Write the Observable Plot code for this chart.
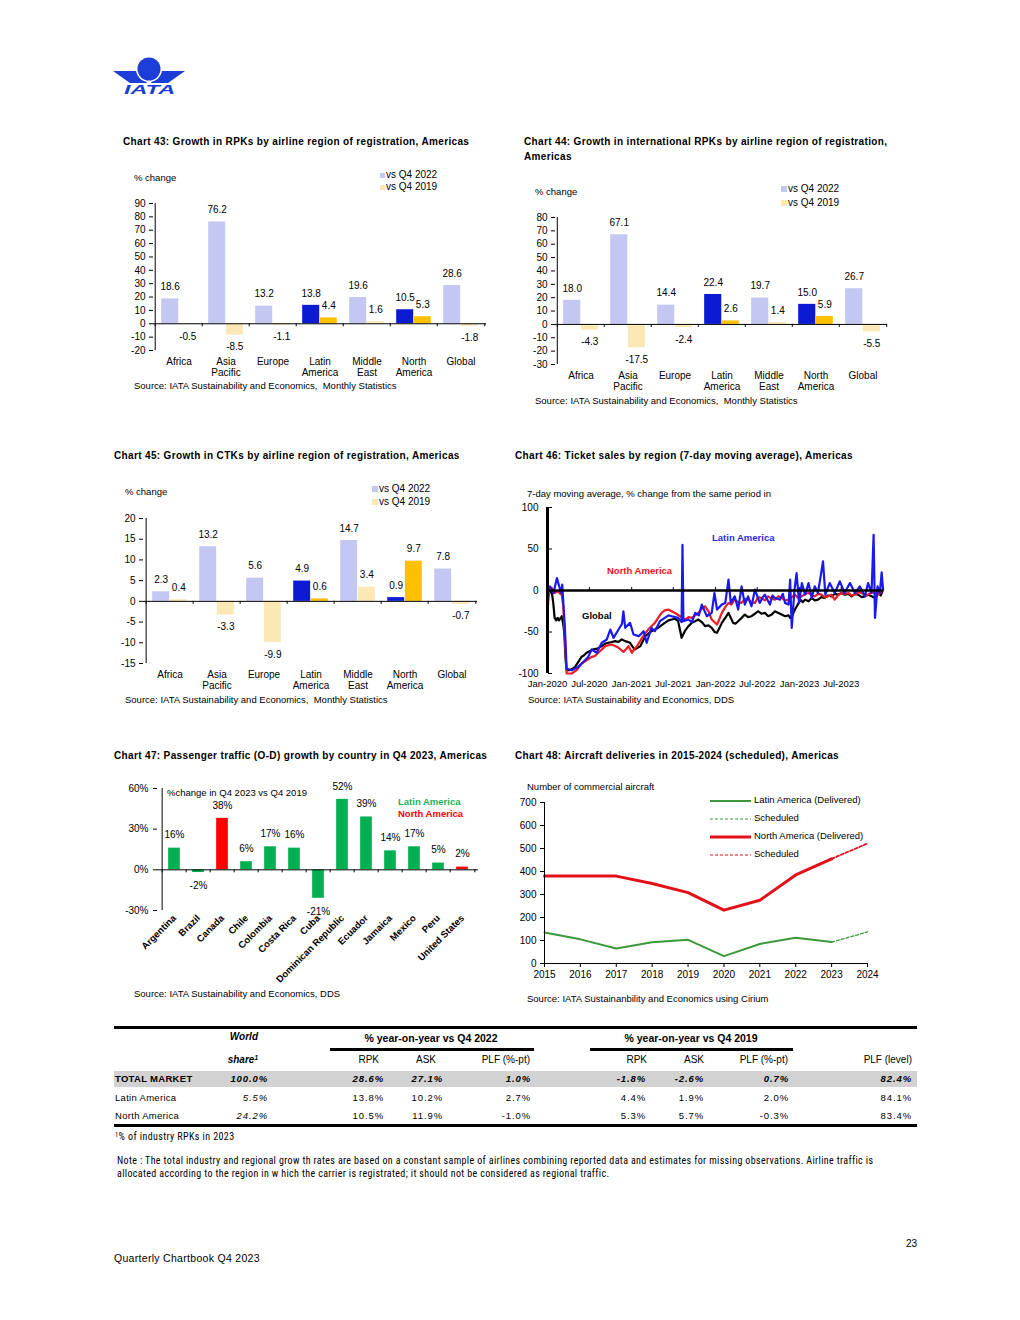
<!DOCTYPE html>
<html><head><meta charset="utf-8">
<script src="https://cdn.jsdelivr.net/npm/d3@7"></script>
<script src="https://cdn.jsdelivr.net/npm/@observablehq/plot@0.6"></script>
<style>
html,body{margin:0;padding:0;background:#fff;}
#page{position:relative;width:1020px;height:1320px;overflow:hidden;font-family:"Liberation Sans",Arial,sans-serif;color:#000;}
.a{position:absolute;white-space:pre;line-height:1;}
.p{position:absolute;}
.p svg{display:block;overflow:visible;}
.r{position:absolute;background:#000;}
sup{font-size:65%;vertical-align:0;position:relative;top:-0.5em;}
</style></head>
<body><div id="page"></div>
<script>
// ---------------- DATA ----------------
const regions = ["Africa", "Asia Pacific", "Europe", "Latin America", "Middle East", "North America", "Global"];
const regionLabels = ["Africa", "Asia\nPacific", "Europe", "Latin\nAmerica", "Middle\nEast", "North\nAmerica", "Global"];
const highlightRegions = ["Latin America", "North America"];

// Chart 43: RPK growth
const rpkVsQ42022 = [18.6, 76.2, 13.2, 13.8, 19.6, 10.5, 28.6];
const rpkVsQ42019 = [-0.5, -8.5, -1.1, 4.4, 1.6, 5.3, -1.8];
// Chart 44: international RPK growth
const intlRpkVsQ42022 = [18.0, 67.1, 14.4, 22.4, 19.7, 15.0, 26.7];
const intlRpkVsQ42019 = [-4.3, -17.5, -2.4, 2.6, 1.4, 5.9, -5.5];
// Chart 45: CTK growth
const ctkVsQ42022 = [2.3, 13.2, 5.6, 4.9, 14.7, 0.9, 7.8];
const ctkVsQ42019 = [0.4, -3.3, -9.9, 0.6, 3.4, 9.7, -0.7];

const ticks43 = [-20, -10, 0, 10, 20, 30, 40, 50, 60, 70, 80, 90];
const ticks44 = [-30, -20, -10, 0, 10, 20, 30, 40, 50, 60, 70, 80];
const ticks45 = [-15, -10, -5, 0, 5, 10, 15, 20];

// Chart 46: ticket sales 7-day moving average (% change)
const chart46TickDates = ["2020-01-01", "2020-07-01", "2021-01-01", "2021-07-01", "2022-01-01", "2022-07-01", "2023-01-01", "2023-07-01"];
const chart46YTicks = [-100, -50, 0, 50, 100];
const globalSales = [
["2020-01-01",-10],["2020-01-08",-4],["2020-01-14",-1],["2020-01-20",-3],["2020-01-26",-15],["2020-02-01",-33],["2020-02-08",-36],["2020-02-14",-33],["2020-02-20",-36],["2020-02-25",-34],["2020-03-03",-31],["2020-03-09",-40],["2020-03-14",-51],["2020-03-19",-80],["2020-03-24",-96],["2020-04-08",-96],["2020-04-20",-94],["2020-04-30",-92],["2020-05-14",-86],["2020-05-28",-80],["2020-06-08",-78],["2020-06-19",-75],["2020-07-04",-73],["2020-07-18",-71],["2020-08-05",-70],["2020-08-24",-67],["2020-09-08",-64],["2020-09-22",-63],["2020-10-07",-62],["2020-10-21",-61],["2020-11-05",-62],["2020-11-19",-59],["2020-12-04",-61],["2020-12-25",-63],["2021-01-08",-69],["2021-01-16",-71],["2021-02-08",-67],["2021-02-20",-60],["2021-03-01",-55],["2021-03-15",-52],["2021-03-28",-49],["2021-04-12",-47],["2021-04-26",-45],["2021-05-10",-42],["2021-05-25",-39],["2021-06-10",-36],["2021-06-24",-35],["2021-07-08",-34],["2021-07-22",-37],["2021-08-01",-50],["2021-08-06",-57],["2021-08-20",-49],["2021-09-05",-43],["2021-09-19",-39],["2021-10-04",-37],["2021-10-18",-35],["2021-11-02",-38],["2021-11-16",-43],["2021-12-01",-42],["2021-12-15",-45],["2021-12-28",-50],["2022-01-07",-51],["2022-01-18",-45],["2022-01-28",-39],["2022-02-12",-33],["2022-02-26",-27],["2022-03-08",-33],["2022-03-18",-39],["2022-03-28",-40],["2022-04-09",-37],["2022-04-24",-33],["2022-05-08",-29],["2022-05-22",-32],["2022-06-06",-31],["2022-06-21",-28],["2022-07-05",-25],["2022-07-19",-28],["2022-08-03",-27],["2022-08-18",-31],["2022-09-02",-29],["2022-09-16",-25],["2022-10-01",-27],["2022-10-15",-29],["2022-10-30",-31],["2022-11-14",-30],["2022-11-21",-33],["2022-12-01",-30],["2022-12-12",-23],["2022-12-22",-18],["2023-01-04",-11],["2023-01-15",-14],["2023-01-25",-11],["2023-02-09",-13],["2023-02-23",-9],["2023-03-08",-12],["2023-03-22",-11],["2023-04-06",-8],["2023-04-20",-9],["2023-05-05",-6],["2023-05-19",-7],["2023-06-03",-4],["2023-06-17",-5],["2023-07-02",-3],["2023-07-16",-5],["2023-08-01",-4],["2023-08-15",-7],["2023-08-30",-4],["2023-09-13",-5],["2023-09-28",-8],["2023-10-12",-7],["2023-10-26",-5],["2023-11-10",-7],["2023-11-25",-9],["2023-12-09",-3],["2023-12-20",-6],["2023-12-30",1]
];
const northAmericaSales = [
["2020-01-01",-23],["2020-01-08",-2],["2020-01-14",2],["2020-01-20",3],["2020-02-01",-3],["2020-02-15",-1],["2020-02-25",-4],["2020-03-03",-5],["2020-03-10",-20],["2020-03-17",-60],["2020-03-24",-100],["2020-04-15",-100],["2020-05-07",-96],["2020-05-28",-88],["2020-06-19",-84],["2020-07-11",-80],["2020-07-25",-79],["2020-08-09",-75],["2020-08-25",-71],["2020-09-08",-67],["2020-09-22",-66],["2020-10-07",-65],["2020-10-21",-67],["2020-11-05",-69],["2020-11-26",-74],["2020-12-10",-70],["2020-12-18",-67],["2021-01-02",-75],["2021-01-12",-71],["2021-01-24",-67],["2021-02-05",-62],["2021-02-15",-57],["2021-02-28",-52],["2021-03-14",-47],["2021-03-28",-43],["2021-04-12",-39],["2021-04-26",-33],["2021-05-11",-27],["2021-05-25",-24],["2021-06-09",-23],["2021-06-24",-25],["2021-07-08",-27],["2021-07-30",-31],["2021-08-10",-33],["2021-08-20",-35],["2021-09-05",-32],["2021-09-19",-33],["2021-10-04",-30],["2021-10-18",-27],["2021-11-02",-22],["2021-11-16",-19],["2021-12-01",-25],["2021-12-15",-35],["2022-01-07",-41],["2022-01-18",-34],["2022-01-28",-27],["2022-02-12",-20],["2022-02-26",-15],["2022-03-10",-17],["2022-03-25",-11],["2022-04-09",-14],["2022-04-24",-15],["2022-05-08",-10],["2022-05-22",-11],["2022-06-06",-14],["2022-06-21",-15],["2022-07-05",-8],["2022-07-19",-9],["2022-08-03",-12],["2022-08-18",-7],["2022-09-02",-10],["2022-09-16",-11],["2022-10-01",-7],["2022-10-15",-9],["2022-10-30",-12],["2022-11-14",-11],["2022-11-28",-8],["2022-12-12",-5],["2022-12-26",-9],["2023-01-11",-7],["2023-01-25",-4],["2023-02-09",-3],["2023-02-23",-6],["2023-03-08",-7],["2023-03-22",-4],["2023-04-06",-5],["2023-04-20",-8],["2023-05-05",-7],["2023-05-19",-5],["2023-06-03",-11],["2023-06-17",-6],["2023-07-02",-3],["2023-07-16",-4],["2023-08-01",-3],["2023-08-15",-6],["2023-08-30",-5],["2023-09-13",-2],["2023-09-28",-3],["2023-10-12",-6],["2023-10-26",-5],["2023-11-10",-2],["2023-11-25",-3],["2023-12-09",-5],["2023-12-24",-1],["2023-12-30",1]
];
const latinAmericaSales = [
["2020-01-01",0],["2020-01-12",5],["2020-01-27",-3],["2020-02-11",15],["2020-02-21",5],["2020-03-01",-3],["2020-03-05",7],["2020-03-17",-47],["2020-03-24",-94],["2020-04-15",-96],["2020-05-14",-92],["2020-06-12",-84],["2020-06-26",-80],["2020-07-11",-71],["2020-08-02",-75],["2020-08-24",-63],["2020-09-15",-59],["2020-09-30",-47],["2020-10-14",-57],["2020-11-05",-47],["2020-11-20",-40],["2020-11-26",-25],["2020-12-04",-45],["2020-12-25",-39],["2021-01-09",-53],["2021-02-01",-55],["2021-02-22",-49],["2021-03-07",-63],["2021-03-28",-45],["2021-04-12",-49],["2021-05-04",-37],["2021-05-25",-33],["2021-06-10",-30],["2021-06-24",-31],["2021-07-22",-33],["2021-08-06",-38],["2021-08-10",55],["2021-08-14",-37],["2021-09-05",-35],["2021-09-20",-38],["2021-10-04",-27],["2021-10-20",-30],["2021-11-02",-17],["2021-11-24",-31],["2021-12-15",-27],["2021-12-27",-3],["2022-01-07",-23],["2022-01-28",-17],["2022-02-12",-15],["2022-02-26",13],["2022-03-08",-15],["2022-03-25",-7],["2022-04-09",-23],["2022-04-24",5],["2022-05-08",-17],["2022-05-22",-7],["2022-06-06",-19],["2022-06-21",1],["2022-07-12",-15],["2022-07-25",-8],["2022-08-03",-5],["2022-08-25",-17],["2022-09-05",-6],["2022-09-16",-9],["2022-10-08",-11],["2022-10-20",-4],["2022-10-30",-15],["2022-11-14",-17],["2022-11-21",13],["2022-11-28",-45],["2022-12-10",1],["2022-12-19",21],["2022-12-30",-15],["2023-01-11",9],["2023-01-25",-5],["2023-02-09",9],["2023-02-23",-9],["2023-03-08",5],["2023-03-22",-3],["2023-04-13",35],["2023-04-23",-5],["2023-05-12",9],["2023-06-03",-3],["2023-06-25",11],["2023-07-16",-3],["2023-08-08",9],["2023-08-30",-3],["2023-09-20",5],["2023-10-12",-7],["2023-10-26",9],["2023-11-10",-3],["2023-11-19",67],["2023-11-25",-33],["2023-12-06",5],["2023-12-16",-3],["2023-12-24",22],["2023-12-30",1]
];

// Chart 47: O-D passenger growth Q4 2023 vs Q4 2019
const countries = ["Argentina", "Brazil", "Canada", "Chile", "Colombia", "Costa Rica", "Cuba", "Dominican Republic", "Ecuador", "Jamaica", "Mexico", "Peru", "United States"];
const countryGrowth = [16, -2, 38, 6, 17, 16, -21, 52, 39, 14, 17, 5, 2];
const countryRegion = ["Latin America", "Latin America", "North America", "Latin America", "Latin America", "Latin America", "Latin America", "Latin America", "Latin America", "Latin America", "Latin America", "Latin America", "North America"];
const ticks47 = [-30, 0, 30, 60];

// Chart 48: aircraft deliveries
const deliveryYears = [2015, 2016, 2017, 2018, 2019, 2020, 2021, 2022, 2023];
const latamDelivered = [135, 105, 65, 92, 103, 32, 85, 112, 93];
const noramDelivered = [380, 380, 380, 348, 308, 232, 275, 385, 455];
const scheduledYears = [2023, 2024];
const latamScheduled = [93, 137];
const noramScheduled = [455, 522];
const axisYears48 = [2015, 2016, 2017, 2018, 2019, 2020, 2021, 2022, 2023, 2024];
const ticks48 = [0, 100, 200, 300, 400, 500, 600, 700];

// Table
const tableRows = ["TOTAL MARKET", "Latin America", "North America"];
const worldShare = ["100.0%", "5.5%", "24.2%"];
const rpk22 = ["28.6%", "13.8%", "10.5%"];
const ask22 = ["27.1%", "10.2%", "11.9%"];
const plf22 = ["1.0%", "2.7%", "-1.0%"];
const rpk19 = ["-1.8%", "4.4%", "5.3%"];
const ask19 = ["-2.6%", "1.9%", "5.7%"];
const plf19 = ["0.7%", "2.0%", "-0.3%"];
const plfLevel = ["82.4%", "84.1%", "83.4%"];

// ---------------- STYLE ----------------
const FONT = '"Liberation Sans", Arial, Helvetica, sans-serif';
const NARROW = '"Liberation Sans Narrow", "Arial Narrow", "Roboto Condensed", "Liberation Sans", sans-serif';
const lavender = "#C3C7F1", paleYellow = "#FCE8B5", darkBlue = "#0B1BD3", gold = "#FFC000";
const green47 = "#00B050", red47 = "#FF0000";
const c46Black = "#000000", c46Red = "#EE1C24", c46Blue = "#1A1AEE";
const green48 = "#3A9A3A", red48 = "#E3101A";
const plotStyle = {fontFamily: FONT, fontSize: "10px", color: "#000", background: "transparent", overflow: "visible"};
const numFmt = d => String(d);

const page = document.getElementById("page");
function txt(x, y, s, o = {}) {
  const d = document.createElement("div");
  d.className = "a";
  if (o.html) d.innerHTML = s; else d.textContent = s;
  d.style.left = x + "px"; d.style.top = y + "px";
  d.style.fontSize = (o.size || 10) + "px";
  d.style.fontFamily = o.font || FONT;
  if (o.bold) d.style.fontWeight = "bold";
  if (o.italic) d.style.fontStyle = "italic";
  if (o.color) d.style.color = o.color;
  if (o.ls) d.style.letterSpacing = o.ls + "px";
  const tx = o.align === "right" ? "-100%" : o.align === "center" ? "-50%" : "0";
  d.style.transform = `translate(${tx},-50%)`;
  page.appendChild(d);
  return d;
}
function rect(x, y, w, h, color) {
  const d = document.createElement("div");
  d.className = "r";
  Object.assign(d.style, {left: x + "px", top: y + "px", width: w + "px", height: h + "px", background: color || "#000"});
  page.appendChild(d);
}
function place(el, left, top) {
  const w = document.createElement("div");
  w.className = "p"; w.style.left = left + "px"; w.style.top = top + "px";
  w.appendChild(el); page.appendChild(w);
}
function title(x, y, s) { txt(x, y, s, {size: 10, bold: true, ls: 0.35}); }

// ---------------- LOGO ----------------
(function logo() {
  const ns = "http://www.w3.org/2000/svg";
  const svg = document.createElementNS(ns, "svg");
  svg.setAttribute("width", 80); svg.setAttribute("height", 50);
  svg.innerHTML = `
    <polygon points="3,16 30,16 37,28 20,28" fill="#1D3DD8"/>
    <polygon points="75,16 48,16 41,28 58,28" fill="#1D3DD8"/>
    <circle cx="39" cy="14" r="13" fill="#fff"/>
    <circle cx="39" cy="14" r="11.5" fill="#1D3DD8"/>
    <text x="14" y="39" font-family="${FONT.replace(/"/g, "'")}" font-weight="bold" font-style="italic" font-size="13" fill="#1D3DD8" textLength="51" lengthAdjust="spacingAndGlyphs">IATA</text>`;
  place(svg, 110, 55);
})();

// ---------------- GROUPED REGION BAR CHART ----------------
function regionChart({width, height, marginLeft, marginRight, marginTop, marginBottom, yDomain, yTicks, cur, pre}) {
  const rows = regions.map((r, i) => ({region: r, cur: cur[i], pre: pre[i], hi: highlightRegions.includes(r)}));
  const step = (width - marginLeft - marginRight) / regions.length;
  const outer = 0.13 * step, half = 0.5 * step;
  const off = (outer - half) / 2;
  const pxPerUnit = (height - marginTop - marginBottom) / (yDomain[1] - yDomain[0]);
  const tickLen = 3 / pxPerUnit;
  const fmt = v => v.toFixed(1);
  return Plot.plot({
    width, height, marginLeft, marginRight, marginTop, marginBottom,
    style: plotStyle,
    x: {domain: regions, padding: 0, label: null},
    y: {domain: yDomain, label: null},
    marks: [
      Plot.barY(rows, {x: "region", y: "cur", fill: d => d.hi ? darkBlue : lavender, insetLeft: outer, insetRight: half}),
      Plot.barY(rows, {x: "region", y: "pre", fill: d => d.hi ? gold : paleYellow, insetLeft: half, insetRight: outer}),
      Plot.ruleY([0], {stroke: "#000", strokeWidth: 1}),
      Plot.ruleX(regions, {x: d => d, dx: -step / 2, y1: 0, y2: -tickLen}),
      Plot.ruleX([regions[regions.length - 1]], {x: d => d, dx: step / 2, y1: 0, y2: -tickLen}),
      Plot.ruleX([regions[0]], {x: d => d, dx: -step / 2, y1: yDomain[0], y2: yDomain[1]}),
      Plot.axisY({ticks: yTicks, tickSize: 4, tickPadding: 4, tickFormat: numFmt, label: null, fontSize: 10}),
      Plot.axisX({tickSize: 0, tickPadding: 6, label: null, fontSize: 10, lineHeight: 1.15,
        tickFormat: d => regionLabels[regions.indexOf(d)]}),
      Plot.text(rows.filter(d => d.cur >= 0), {x: "region", y: "cur", text: d => fmt(d.cur), dx: off, dy: -12, fontSize: 10}),
      Plot.text(rows.filter(d => d.cur < 0), {x: "region", y: "cur", text: d => fmt(d.cur), dx: off, dy: 12, fontSize: 10}),
      Plot.text(rows.filter(d => d.pre >= 0), {x: "region", y: "pre", text: d => fmt(d.pre), dx: -off, dy: -12, fontSize: 10}),
      Plot.text(rows.filter(d => d.pre < 0), {x: "region", y: "pre", text: d => fmt(d.pre), dx: -off, dy: 12, fontSize: 10})
    ]
  });
}
function legend2(x, y1, y2, size) {
  const s = size || 6;
  rect(x, y1 - s / 2, s, s, lavender);
  rect(x, y2 - s / 2, s, s, paleYellow);
  txt(x + s + 1, y1, "vs Q4 2022", {size: 10});
  txt(x + s + 1, y2, "vs Q4 2019", {size: 10});
}
const SRC = "Source: IATA Sustainability and Economics,  Monthly Statistics";

// Chart 43
title(123, 142, "Chart 43: Growth in RPKs by airline region of registration, Americas");
txt(134, 178, "% change", {size: 9.5});
legend2(380, 175, 187, 5);
place(regionChart({width: 390, height: 190, marginLeft: 43, marginRight: 14, marginTop: 13, marginBottom: 30,
  yDomain: [-20, 90], yTicks: ticks43, cur: rpkVsQ42022, pre: rpkVsQ42019}), 110, 190);
txt(134, 386, SRC, {size: 9.5});

// Chart 44
title(524, 142, "Chart 44: Growth in international RPKs by airline region of registration,");
title(524, 157, "Americas");
txt(535, 192, "% change", {size: 9.5});
legend2(781, 189, 203, 6);
place(regionChart({width: 390, height: 190, marginLeft: 40, marginRight: 18, marginTop: 12, marginBottom: 31,
  yDomain: [-30, 80], yTicks: ticks44, cur: intlRpkVsQ42022, pre: intlRpkVsQ42019}), 515, 205);
txt(535, 401, SRC, {size: 9.5});

// Chart 45
title(114, 456, "Chart 45: Growth in CTKs by airline region of registration, Americas");
txt(125, 492, "% change", {size: 9.5});
legend2(372, 489, 502, 6);
place(regionChart({width: 390, height: 190, marginLeft: 38, marginRight: 18, marginTop: 13, marginBottom: 32,
  yDomain: [-15, 20], yTicks: ticks45, cur: ctkVsQ42022, pre: ctkVsQ42019}), 105, 505);
txt(125, 700, SRC, {size: 9.5});

// ---------------- CHART 46 ----------------
title(515, 456, "Chart 46: Ticket sales by region (7-day moving average), Americas");
txt(527, 494, "7-day moving average, % change from the same period in", {size: 9.5});
{
  const toRows = arr => arr.map(([d, v]) => ({date: new Date(d), value: v}));
  const tickDates = chart46TickDates.map(d => new Date(d));
  const start = new Date("2020-01-01"), end = new Date("2024-01-01");
  const chart = Plot.plot({
    width: 385, height: 195, marginLeft: 37, marginRight: 12, marginTop: 7, marginBottom: 22,
    style: plotStyle,
    x: {type: "utc", domain: [start, end], label: null},
    y: {domain: [-100, 100], label: null},
    marks: [
      Plot.line(toRows(globalSales), {x: "date", y: "value", stroke: c46Black, strokeWidth: 2.2}),
      Plot.line(toRows(northAmericaSales), {x: "date", y: "value", stroke: c46Red, strokeWidth: 2.2}),
      Plot.line(toRows(latinAmericaSales), {x: "date", y: "value", stroke: c46Blue, strokeWidth: 2.2}),
      Plot.ruleY([0], {stroke: "#000", strokeWidth: 2.5}),
      Plot.ruleX(tickDates.slice(1), {y1: 0, y2: 3.5, stroke: "#000", strokeWidth: 1}),
      Plot.ruleX([start], {y1: -100, y2: 100, stroke: "#000", strokeWidth: 3}),
      Plot.axisY({ticks: chart46YTicks, tickSize: 0, tickPadding: 9, tickFormat: numFmt, label: null, fontSize: 10}),
      Plot.axisY({ticks: [-100, -50, 50, 100], tickSize: 4, tickFormat: () => "", dx: 5, label: null}),
      Plot.axisX({ticks: tickDates, tickFormat: d3.utcFormat("%b-%Y"), tickSize: 0, tickPadding: 7, label: null, fontSize: 9.5})
    ]
  });
  place(chart, 510, 500);
}
txt(712, 538, "Latin America", {size: 9.5, bold: true, color: "#2B2BE0"});
txt(607, 571, "North America", {size: 9.5, bold: true, color: "#E8141C"});
txt(582, 616, "Global", {size: 9.5, bold: true});
txt(528, 700, "Source: IATA Sustainability and Economics, DDS", {size: 9.5});

// ---------------- CHART 47 ----------------
title(114, 756, "Chart 47: Passenger traffic (O-D) growth by country in Q4 2023, Americas");
{
  const rows = countries.map((c, i) => ({country: c, value: countryGrowth[i], region: countryRegion[i]}));
  const width = 375, ml = 47, mr = 7, mt = 8, mb = 75, height = 205;
  const step = (width - ml - mr) / countries.length;
  const pxPerUnit = (height - mt - mb) / 90;
  const tickLen = 3 / pxPerUnit;
  const chart = Plot.plot({
    width, height, marginLeft: ml, marginRight: mr, marginTop: mt, marginBottom: mb,
    style: plotStyle,
    x: {domain: countries, padding: 0, label: null},
    y: {domain: [-30, 60], label: null},
    marks: [
      Plot.barY(rows, {x: "country", y: "value", fill: d => d.region === "Latin America" ? green47 : red47, insetLeft: 0.25 * step, insetRight: 0.25 * step}),
      Plot.ruleY([0], {stroke: "#000"}),
      Plot.ruleX(countries, {x: d => d, dx: -step / 2, y1: 0, y2: -tickLen}),
      Plot.ruleX([countries[countries.length - 1]], {x: d => d, dx: step / 2, y1: 0, y2: -tickLen}),
      Plot.ruleX([countries[0]], {x: d => d, dx: -step / 2, y1: -30, y2: 60}),
      Plot.axisY({ticks: ticks47, tickSize: 4, tickPadding: 5, tickFormat: d => d + "%", label: null, fontSize: 10}),
      Plot.axisX({tickSize: 0, tickPadding: 6, tickRotate: -45, label: null, fontSize: 9.5, fontWeight: "bold"}),
      Plot.text(rows.filter(d => d.value >= 0), {x: "country", y: "value", text: d => d.value + "%", dy: -13, fontSize: 10}),
      Plot.text(rows.filter(d => d.value < 0), {x: "country", y: "value", text: d => d.value + "%", dy: 13, fontSize: 10})
    ]
  });
  place(chart, 110, 780);
}
txt(167, 793, "%change in Q4 2023 vs Q4 2019", {size: 9.5});
txt(398, 802, "Latin America", {size: 9.5, bold: true, color: "#1FAF4F"});
txt(398, 814, "North America", {size: 9.5, bold: true, color: "#FF0000"});
txt(134, 994, "Source: IATA Sustainability and Economics, DDS", {size: 9.5});

// ---------------- CHART 48 ----------------
title(515, 756, "Chart 48: Aircraft deliveries in 2015-2024 (scheduled), Americas");
txt(527, 787, "Number of commercial aircraft", {size: 9.5});
{
  const laRows = deliveryYears.map((y, i) => ({year: y, value: latamDelivered[i]}));
  const naRows = deliveryYears.map((y, i) => ({year: y, value: noramDelivered[i]}));
  const laSch = scheduledYears.map((y, i) => ({year: y, value: latamScheduled[i]}));
  const naSch = scheduledYears.map((y, i) => ({year: y, value: noramScheduled[i]}));
  const chart = Plot.plot({
    width: 370, height: 185, marginLeft: 34, marginRight: 13, marginTop: 7, marginBottom: 17,
    style: plotStyle,
    x: {domain: [2015, 2024], label: null},
    y: {domain: [0, 700], label: null},
    marks: [
      Plot.line(laRows, {x: "year", y: "value", stroke: green48, strokeWidth: 2}),
      Plot.line(laSch, {x: "year", y: "value", stroke: green48, strokeWidth: 1.3, strokeDasharray: "3,2"}),
      Plot.line(naRows, {x: "year", y: "value", stroke: red48, strokeWidth: 3}),
      Plot.line(naSch, {x: "year", y: "value", stroke: red48, strokeWidth: 1.8, strokeDasharray: "3,2"}),
      Plot.ruleY([0], {stroke: "#000"}),
      Plot.ruleX([2015], {y1: 0, y2: 700, stroke: "#000"}),
      Plot.axisY({ticks: ticks48, tickSize: 4, tickPadding: 4, label: null, fontSize: 10}),
      Plot.axisX({ticks: axisYears48, tickFormat: d => String(d), tickSize: 4, tickPadding: 3, label: null, fontSize: 10})
    ]
  });
  place(chart, 510, 795);
}
{
  const ns = "http://www.w3.org/2000/svg";
  const svg = document.createElementNS(ns, "svg");
  svg.setAttribute("width", 45); svg.setAttribute("height", 64);
  svg.innerHTML = `
    <line x1="1" x2="42" y1="2" y2="2" stroke="${green48}" stroke-width="2"/>
    <line x1="1" x2="42" y1="20" y2="20" stroke="${green48}" stroke-width="1" stroke-dasharray="3,2"/>
    <line x1="1" x2="42" y1="38" y2="38" stroke="${red48}" stroke-width="3"/>
    <line x1="1" x2="42" y1="56" y2="56" stroke="${red48}" stroke-width="1" stroke-dasharray="3,2"/>`;
  place(svg, 709, 799);
}
txt(754, 800, "Latin America (Delivered)", {size: 9.5});
txt(754, 818, "Scheduled", {size: 9.5});
txt(754, 836, "North America (Delivered)", {size: 9.5});
txt(754, 854, "Scheduled", {size: 9.5});
txt(527, 999, "Source: IATA Sustainanbility and Economics using Cirium", {size: 9.5});

// ---------------- TABLE ----------------
rect(114, 1026, 803, 3);
rect(114, 1071, 803, 16, "#D2D2D2");
rect(330, 1048, 204, 3);
rect(590, 1048, 203, 3);
rect(114, 1124, 803, 3);
txt(258, 1037, "World", {size: 10, bold: true, italic: true, align: "right"});
txt(258, 1060, "share<sup>1</sup>", {size: 10, bold: true, italic: true, html: true, align: "right"});
txt(431, 1038, "% year-on-year vs Q4 2022", {size: 10.5, bold: true, align: "center"});
txt(691, 1038, "% year-on-year vs Q4 2019", {size: 10.5, bold: true, align: "center"});
const colHeads = [["RPK", 379], ["ASK", 436], ["PLF (%-pt)", 530], ["RPK", 647], ["ASK", 704], ["PLF (%-pt)", 788], ["PLF (level)", 912]];
colHeads.forEach(([s, x]) => txt(x, 1060, s, {size: 10, align: "right"}));
const rowY = [1079, 1098, 1116];
const cols = [[worldShare, 268], [rpk22, 384], [ask22, 443], [plf22, 531], [rpk19, 646], [ask19, 704], [plf19, 789], [plfLevel, 912]];
tableRows.forEach((name, i) => {
  const total = i === 0;
  txt(115, rowY[i], name, {size: 9.5, bold: total, ls: 0.3});
  cols.forEach(([arr, x], j) => {
    txt(x, rowY[i], arr[i], {size: 9.5, bold: total, italic: total || j === 0, ls: 0.9, align: "right"});
  });
});
txt(115, 1137, "<sup>1</sup>% of industry RPKs in 2023", {size: 10, font: NARROW, ls: 0.4, html: true});
txt(117, 1161, "Note : The total industry and regional grow th rates are based on a constant sample of airlines combining reported data and estimates for missing observations. Airline traffic is", {size: 10, font: NARROW, ls: 0.36});
txt(117, 1174, "allocated according to the region in w hich the carrier is registrated; it should not be considered as regional traffic.", {size: 10, font: NARROW, ls: 0.36});

// ---------------- FOOTER ----------------
txt(917, 1244, "23", {size: 10, align: "right"});
txt(114, 1258, "Quarterly Chartbook Q4 2023", {size: 10.5, ls: 0.3});
</script></body></html>
